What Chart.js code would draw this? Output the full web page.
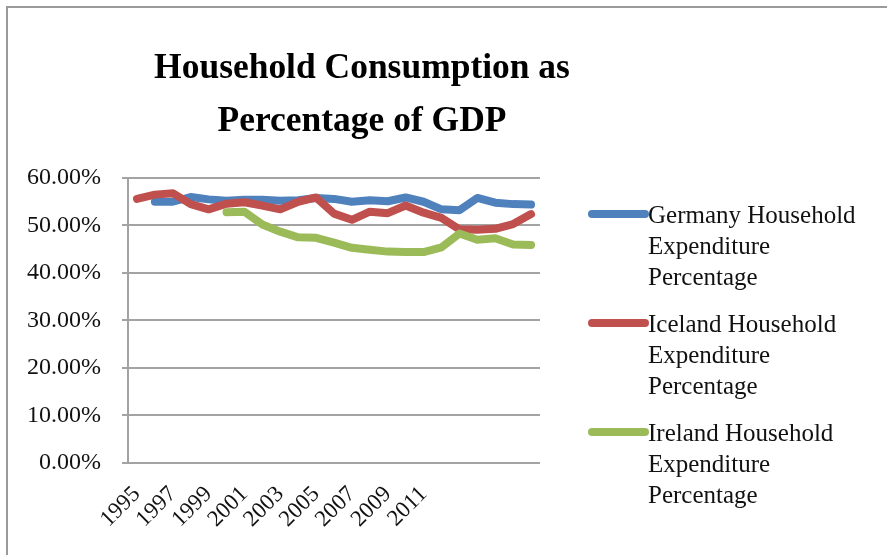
<!DOCTYPE html>
<html>
<head>
<meta charset="utf-8">
<title>Household Consumption as Percentage of GDP</title>
<script src="https://cdn.jsdelivr.net/npm/chart.js@4.4.1/dist/chart.umd.min.js"></script>
<style>
    body { margin: 0; background: #fff; }
    #wrap { position: relative; width: 887px; height: 555px; overflow: hidden; }
    #frame { position: absolute; left: 6px; top: 6px; width: 1000px; height: 700px;
             border-left: 2px solid #9a9a9a; border-top: 2px solid #9a9a9a; }
    #myChart { position: absolute; left: 0; top: 0; }
</style>
</head>
<body>
<div id="wrap">
    <div id="frame"></div>
    <canvas id="myChart" width="887" height="555"></canvas>
</div>
<script>
// years on the category axis (the last rows have no label in the source sheet)
var years = ['1995', '1996', '1997', '1998', '1999', '2000', '2001', '2002', '2003', '2004',
             '2005', '2006', '2007', '2008', '2009', '2010', '2011', '', '', '', '', '', ''];

// household expenditure as % of GDP
var germany = [null, 55.0, 55.0, 56.0, 55.5, 55.2, 55.4, 55.4, 55.2, 55.3, 55.8, 55.6,
               55.0, 55.3, 55.1, 55.9, 55.0, 53.4, 53.2, 55.8, 54.8, 54.5, 54.4];
var iceland = [55.6, 56.5, 56.8, 54.5, 53.4, 54.6, 54.9, 54.2, 53.4, 55.0, 55.9, 52.5,
               51.2, 52.9, 52.6, 54.2, 52.7, 51.6, 49.2, 49.1, 49.3, 50.3, 52.4];
var ireland = [null, null, null, null, null, 52.8, 52.9, 50.2, 48.7, 47.5, 47.4, 46.4,
               45.3, 44.9, 44.5, 44.4, 44.4, 45.4, 48.3, 47.0, 47.3, 46.0, 45.9];

var seriesNames = ['Germany Household Expenditure Percentage',
                   'Iceland Household Expenditure Percentage',
                   'Ireland Household Expenditure Percentage'];
var seriesColors = ['#4F81BD', '#C0504D', '#9BBB59'];

var titleLines = ['Household Consumption as', 'Percentage of GDP'];

// title drawn by hand so it can sit where Excel put it
var titlePlugin = {
    id: 'xlTitle',
    afterDraw: function (chart, args, opts) {
        var ctx = chart.ctx;
        ctx.save();
        ctx.fillStyle = '#000';
        ctx.font = opts.font;
        ctx.textAlign = 'center';
        ctx.textBaseline = 'alphabetic';
        for (var i = 0; i < opts.lines.length; i++) {
            ctx.save();
            ctx.translate(opts.x, opts.y + i * opts.lineHeight);
            ctx.scale(opts.squeeze, 1);
            ctx.fillText(opts.lines[i], 0, 0);
            ctx.restore();
        }
        ctx.restore();
    }
};

// legend with wrapped labels like the Excel one
var legendPlugin = {
    id: 'xlLegend',
    afterDraw: function (chart, args, opts) {
        var ctx = chart.ctx;
        var x = chart.chartArea.right + opts.gap;
        var y = opts.top;
        ctx.save();
        ctx.font = opts.font;
        ctx.textBaseline = 'middle';
        ctx.textAlign = 'left';
        chart.data.datasets.forEach(function (ds) {
            ctx.strokeStyle = ds.borderColor;
            ctx.lineWidth = ds.borderWidth;
            ctx.lineCap = 'round';
            ctx.beginPath();
            ctx.moveTo(x, y);
            ctx.lineTo(x + opts.lineLen, y);
            ctx.stroke();

            var words = ds.label.split(' ');
            var lines = [];
            var cur = '';
            words.forEach(function (w) {
                var test = cur ? cur + ' ' + w : w;
                if (cur && ctx.measureText(test).width > opts.maxWidth) {
                    lines.push(cur);
                    cur = w;
                } else {
                    cur = test;
                }
            });
            lines.push(cur);
            ctx.fillStyle = '#111';
            lines.forEach(function (l, i) {
                ctx.fillText(l, x + opts.lineLen + 3, y + 2 + i * opts.lineHeight);
            });
            y += opts.spacing;
        });
        ctx.restore();
    }
};

function makeSet(i, values, order) {
    return {
        label: seriesNames[i],
        data: values,
        borderColor: seriesColors[i],
        backgroundColor: seriesColors[i],
        borderWidth: 8,
        borderCapStyle: 'round',
        borderJoinStyle: 'round',
        pointRadius: 0,
        tension: 0,
        order: order
    };
}

var ctx = document.getElementById('myChart').getContext('2d');
var chart = new Chart(ctx, {
    type: 'line',
    data: {
        labels: years,
        datasets: [makeSet(0, germany, 3), makeSet(1, iceland, 2), makeSet(2, ireland, 1)]
    },
    plugins: [titlePlugin, legendPlugin],
    options: {
        responsive: false,
        animation: false,
        layout: { padding: { left: 26, right: 347, top: 178, bottom: 12 } },
        scales: {
            x: {
                offset: true,
                grid: { display: false },
                border: { display: false },
                // let the slanted year labels hang under the value labels, as in Excel
                afterFit: function (scale) { scale.paddingLeft = 0; },
                ticks: {
                    autoSkip: false,
                    minRotation: 45,
                    maxRotation: 45,
                    padding: 10,
                    color: '#111',
                    font: { family: 'Liberation Serif', size: 23 },
                    callback: function (v, i) { return i % 2 === 0 ? this.getLabelForValue(v) : ''; }
                }
            },
            y: {
                min: 0,
                max: 60,
                afterFit: function (scale) { scale.width = 102; },
                grid: { color: '#a3a3a3', lineWidth: 2, tickLength: 6 },
                border: { color: '#a3a3a3', width: 2 },
                ticks: {
                    stepSize: 10,
                    padding: 21,
                    color: '#111',
                    font: { family: 'Liberation Serif', size: 24 },
                    callback: function (v) { return v.toFixed(2) + '%'; }
                }
            }
        },
        plugins: {
            legend: { display: false },
            title: { display: false },
            tooltip: { enabled: false },
            xlTitle: {
                lines: titleLines,
                font: 'bold 36px "Liberation Serif"',
                x: 362,
                y: 78,
                lineHeight: 53,
                squeeze: 0.985
            },
            xlLegend: {
                font: '25px "Liberation Serif"',
                top: 214,
                gap: 52,
                lineLen: 53,
                lineHeight: 31,
                spacing: 109,
                maxWidth: 218
            }
        }
    }
});
</script>
</body>
</html>
